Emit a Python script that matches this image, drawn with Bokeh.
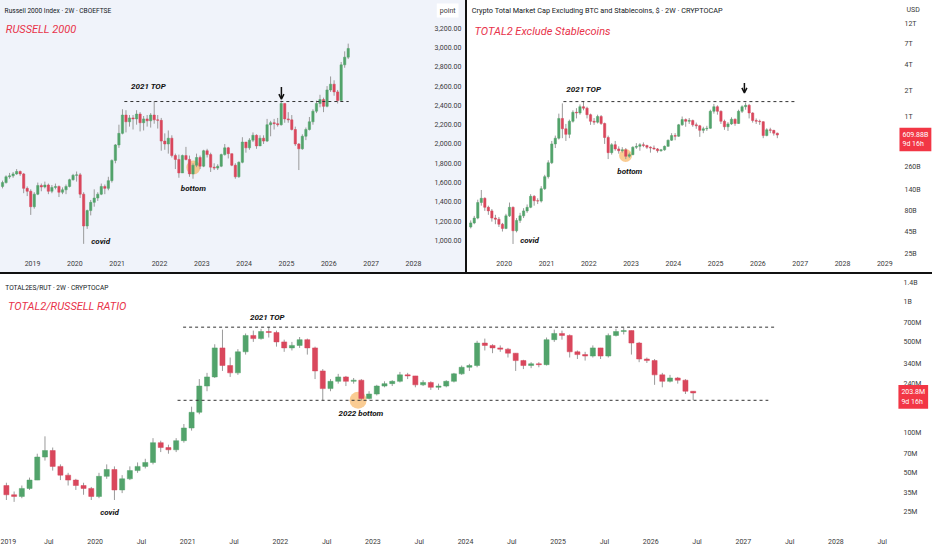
import pandas as pd
from bokeh.plotting import figure
from bokeh.models import ColumnDataSource, FixedTicker, Label, Arrow, OpenHead
from bokeh.layouts import column, row
from bokeh.embed import file_html
from bokeh.resources import INLINE

# ---------------- data (monthly candles, open = previous close) ----------------
rut_start = "2018-04"
rut_open0 = 1560
rut_close = [1600, 1660, 1670, 1690, 1715, 1690, 1540, 1510, 1350,
             1480, 1570, 1555, 1575, 1510, 1550, 1560, 1500, 1525, 1560, 1630, 1675,
             1680, 1480, 1150, 1310, 1395, 1440, 1480, 1560, 1540, 1620, 1830, 1990,
             2110, 2300, 2230, 2270, 2260, 2310, 2220, 2260, 2240, 2300, 2250, 2245,
             2030, 2000, 2060, 1880, 1840, 1700, 1880, 1840, 1690, 1780, 1860, 1770,
             1930, 1890, 1760, 1750, 1770, 1890, 1960, 1900, 1780, 1660, 1810, 2020,
             1960, 2040, 2090, 1980, 2060, 2030, 2200, 2220, 2210, 2200, 2420, 2260,
             2250, 2150, 2000, 1950, 2080, 2150, 2230, 2340, 2420, 2460, 2390, 2560,
             2620, 2540, 2450, 2820, 2900, 2990]
rut_high = [1620, 1675, 1700, 1710, 1740, 1725, 1700, 1560, 1530,
            1500, 1600, 1590, 1610, 1590, 1575, 1590, 1570, 1550, 1580, 1640, 1690,
            1715, 1700, 1500, 1320, 1420, 1530, 1500, 1590, 1580, 1660, 1840, 2000,
            2200, 2360, 2350, 2300, 2300, 2350, 2330, 2290, 2300, 2320, 2445, 2300,
            2270, 2110, 2140, 2090, 1900, 1890, 1890, 1970, 1880, 1800, 1900, 1880,
            1940, 1950, 1910, 1800, 1790, 1900, 2000, 1970, 1900, 1800, 1820, 2070,
            2020, 2060, 2120, 2100, 2090, 2090, 2260, 2240, 2260, 2270, 2450, 2420,
            2330, 2300, 2180, 2010, 2100, 2170, 2280, 2360, 2450, 2510, 2480, 2600,
            2700, 2660, 2560, 2850, 2960, 3040]
rut_low = [1540, 1590, 1640, 1650, 1680, 1670, 1490, 1460, 1265,
           1330, 1470, 1510, 1540, 1480, 1490, 1530, 1450, 1480, 1480, 1550, 1620,
           1610, 1440, 965, 1120, 1260, 1350, 1410, 1470, 1480, 1520, 1600, 1800,
           1960, 2100, 2120, 2180, 2150, 2200, 2130, 2140, 2180, 2170, 2210, 2160,
           1930, 1940, 1900, 1860, 1740, 1650, 1700, 1830, 1660, 1640, 1760, 1740,
           1760, 1860, 1710, 1730, 1730, 1760, 1880, 1850, 1770, 1640, 1650, 1800,
           1910, 1940, 2020, 1950, 1980, 2000, 2020, 2080, 2150, 2180, 2190, 2220,
           2220, 2140, 1980, 1730, 1940, 2040, 2140, 2200, 2320, 2380, 2330, 2380,
           2540, 2500, 2420, 2440, 2790, 2880]

t2_start = "2019-03"
t2_open0 = 52
t2_close = [58, 66, 100, 112, 88, 80, 66, 64, 56, 50,
            70, 88, 47, 62, 70, 80, 88, 118, 105, 104, 145, 200,
            290, 480, 560, 950, 720, 620, 880, 1120, 1100, 1300, 1250, 1050,
            880, 860, 1000, 830, 570, 380, 470, 420, 400, 410, 345, 360,
            440, 450, 470, 460, 440, 430, 420, 400, 410, 450, 530, 600,
            590, 800, 920, 880, 900, 800, 780, 690, 720, 730, 1150, 1300,
            1150, 880, 760, 820, 930, 830, 1150, 1300, 1350, 1100, 900, 880,
            870, 600, 700, 690, 640, 609.88]
t2_high = [62, 70, 108, 140, 115, 92, 84, 72, 68, 58,
           74, 100, 90, 66, 76, 86, 95, 125, 122, 112, 155, 210,
           310, 520, 600, 1080, 1420, 820, 920, 1180, 1250, 1380, 1500, 1300,
           1080, 960, 1050, 1040, 850, 600, 490, 520, 450, 440, 430, 380,
           450, 490, 490, 500, 470, 450, 460, 430, 420, 460, 540, 640,
           640, 820, 1000, 950, 960, 920, 850, 800, 760, 780, 1200, 1400,
           1350, 1180, 920, 860, 980, 950, 1200, 1350, 1450, 1400, 1120, 950,
           920, 880, 730, 740, 700, 650]
t2_low = [50, 56, 64, 92, 80, 72, 60, 56, 52, 46,
          49, 68, 33, 45, 58, 66, 76, 86, 92, 96, 100, 140,
          190, 280, 430, 540, 560, 520, 560, 850, 950, 1050, 1180, 950,
          800, 800, 830, 800, 480, 320, 360, 400, 370, 380, 320, 330,
          355, 420, 400, 440, 420, 380, 410, 380, 390, 400, 445, 520,
          530, 580, 780, 760, 820, 760, 720, 580, 640, 680, 720, 1080,
          1050, 820, 700, 680, 800, 780, 820, 1100, 1200, 950, 850, 820,
          800, 560, 590, 640, 600, 560]

ratio_start = "2019-01"
ratio_open0 = 40
ratio_close = [34, 33, 38, 44, 66, 74, 56, 48, 44, 40, 38, 33,
               47, 53, 37, 45, 52, 56, 60, 85, 78, 75, 88, 110,
               145, 230, 270, 450, 330, 290, 420, 560, 530, 600, 590, 500,
               450, 470, 520, 450, 300, 220, 250, 270, 250, 255, 185, 200,
               230, 240, 250, 280, 275, 235, 245, 225, 230, 250, 285, 320,
               330, 490, 470, 450, 440, 410, 360, 330, 340, 335, 520, 580,
               560, 420, 400, 390, 450, 390, 560, 600, 610, 490, 370, 360,
               280, 250, 265, 255, 210, 203.8]
ratio_high = [42, 36, 40, 46, 70, 95, 78, 58, 50, 45, 42, 39,
              50, 58, 56, 48, 56, 60, 64, 92, 88, 82, 92, 118,
              160, 260, 290, 480, 620, 380, 440, 580, 610, 630, 650, 610,
              520, 500, 545, 530, 460, 310, 260, 285, 275, 265, 260, 210,
              235, 250, 255, 295, 290, 275, 255, 250, 240, 255, 290, 330,
              340, 510, 530, 480, 470, 450, 410, 365, 350, 350, 540, 620,
              610, 570, 430, 420, 470, 450, 580, 630, 640, 610, 500, 380,
              370, 290, 280, 270, 260, 210]
ratio_low = [31, 30, 32, 37, 44, 62, 52, 44, 40, 37, 34, 31,
             32, 45, 31, 35, 44, 50, 54, 58, 72, 70, 72, 85,
             105, 140, 210, 265, 300, 270, 280, 400, 500, 520, 540, 460,
             420, 430, 450, 400, 260, 180, 210, 240, 230, 240, 178, 182,
             195, 225, 230, 245, 260, 225, 230, 215, 215, 225, 245, 280,
             300, 320, 430, 410, 420, 380, 300, 310, 315, 320, 330, 500,
             520, 380, 370, 360, 380, 370, 380, 550, 570, 400, 350, 345,
             235, 225, 245, 240, 200, 180]

# tick values / labels
rut_xticks = [2019, 2020, 2021, 2022, 2023, 2024, 2025, 2026, 2027, 2028]
rut_yticks = [1000, 1200, 1400, 1600, 1800, 2000, 2200, 2400, 2600, 2800, 3000, 3200]
rut_ylabels = ["1,000.00", "1,200.00", "1,400.00", "1,600.00", "1,800.00", "2,000.00",
               "2,200.00", "2,400.00", "2,600.00", "2,800.00", "3,000.00", "3,200.00"]
t2_xticks = [2020, 2021, 2022, 2023, 2024, 2025, 2026, 2027, 2028, 2029]
t2_yticks = [25, 45, 80, 140, 260, 1000, 2000, 4000, 7000, 12000]
t2_ylabels = ["25B", "45B", "80B", "140B", "260B", "1T", "2T", "4T", "7T", "12T"]
ratio_xticks = [2019, 2019.5, 2020, 2020.5, 2021, 2021.5, 2022, 2022.5, 2023, 2023.5,
                2024, 2024.5, 2025, 2025.5, 2026, 2026.5, 2027, 2027.5, 2028, 2028.5]
ratio_xlabels = ["2019", "Jul", "2020", "Jul", "2021", "Jul", "2022", "Jul", "2023", "Jul",
                 "2024", "Jul", "2025", "Jul", "2026", "Jul", "2027", "Jul", "2028", "Jul"]
ratio_yticks = [25, 35, 50, 70, 100, 240, 340, 500, 700, 1000, 1400]
ratio_ylabels = ["25M", "35M", "50M", "70M", "100M", "240M", "340M", "500M", "700M", "1B", "1.4B"]

# ---------------- styling ----------------
GREEN = "#52a36b"
RED = "#d9475c"
WICK = "#9a9a9a"
TAG_RED = "#f23645"
LABEL_RED = "#e8334a"
FONT = "Roboto"


def month_t(start, n):
    per = pd.period_range(start=start, periods=n, freq="M")
    return [y + (m - 0.5) / 12 for y, m in zip(per.year, per.month)]


def candles(p, start, open0, close, high, low):
    t = month_t(start, len(close))
    opens = [open0] + list(close[:-1])
    src = ColumnDataSource(dict(
        t=t, h=high, l=low,
        top=[max(o, c) for o, c in zip(opens, close)],
        bot=[min(o, c) for o, c in zip(opens, close)],
        color=[GREEN if c >= o else RED for o, c in zip(opens, close)],
    ))
    p.segment("t", "l", "t", "h", source=src, line_color=WICK, line_width=1)
    p.vbar(x="t", top="top", bottom="bot", width=0.055, fill_color="color",
           line_color="color", line_width=0.5, source=src)


def make_fig(w, h, xr, yr, ytype, bg, xticks, xlabels, yticks, ylabels, axis_x, bottom, ystand):
    p = figure(width=w, height=h, x_range=xr, y_range=yr, y_axis_type=ytype,
               output_backend="svg", toolbar_location=None, y_axis_location="right",
               background_fill_color=bg, border_fill_color=bg,
               min_border_left=0, min_border_top=0, min_border_bottom=bottom,
               min_border_right=0, styles={"background-color": bg})
    p.outline_line_color = None
    p.xgrid.visible = False
    p.ygrid.visible = False
    for ax in (p.xaxis[0], p.yaxis[0]):
        ax.axis_line_color = None
        ax.major_tick_line_color = None
        ax.minor_tick_line_color = None
        ax.major_tick_out = 0
        ax.major_tick_in = 0
        ax.minor_tick_out = 0
        ax.major_label_text_font = FONT
        ax.major_label_text_font_size = "7px"
        ax.major_label_text_color = "#3a3a3a"
    p.xaxis.major_label_standoff = 4
    p.yaxis.major_label_standoff = ystand
    p.yaxis.fixed_location = axis_x
    p.xaxis.ticker = FixedTicker(ticks=xticks)
    p.xaxis.major_label_overrides = {float(v) if v != int(v) else int(v): s
                                     for v, s in zip(xticks, xlabels)}
    p.yaxis.ticker = FixedTicker(ticks=yticks)
    p.yaxis.major_label_overrides = {v: s for v, s in zip(yticks, ylabels)}
    return p


def txt(p, x, y, s, size="8px", color="#131722", style="normal", align="left", **kw):
    p.add_layout(Label(x=x, y=y, text=s, text_font=FONT, text_font_size=size,
                       text_color=color, text_font_style=style, text_align=align,
                       text_baseline="middle", **kw))


def note(p, x, y, s):
    txt(p, x, y, s, size="8px", color="#111111", style="bold italic", align="center")


def glow(p, x, y, size):
    p.scatter([x], [y], size=size, fill_color="#f5a23a", fill_alpha=0.55, line_color=None)


W1, W2, H1, W3, H3 = 465, 465, 272, 932, 276

# ---------------- Russell 2000 ----------------
p1 = make_fig(W1, H1, (2018.244, 2029.229), (834, 3487), "linear", "#f0f3fa",
              rut_xticks, [str(v) for v in rut_xticks], rut_yticks, rut_ylabels,
              2028.426, 16, 3)
glow(p1, 2022.80, 1756, 14)
candles(p1, rut_start, rut_open0, rut_close, rut_high, rut_low)
p1.line([2021.17, 2026.47], [2440, 2440], line_dash="3 3", line_color="#333333", line_width=1)
p1.add_layout(Arrow(end=OpenHead(size=5, line_width=1.5, line_color="#111111"),
                    x_start=2024.88, y_start=2590, x_end=2024.88, y_end=2465,
                    line_width=1.5, line_color="#111111"))
txt(p1, 2018.34, 3383, "Russell 2000 Index · 2W · CBOEFTSE", size="6.6px")
txt(p1, 2018.37, 3186, "RUSSELL 2000", size="11px", color=LABEL_RED, style="italic")
note(p1, 2021.74, 2596, "2021 TOP")
note(p1, 2022.80, 1539, "bottom")
note(p1, 2020.61, 990, "covid")
txt(p1, 2028.55, 3383, "point", size="7px", color="#3a3a3a",
    background_fill_color="white", padding=3)

# ---------------- TOTAL2 ----------------
p2 = make_fig(W2, H1, (2019.132, 2030.128), (23.6, 22300), "log", "#ffffff",
              t2_xticks, [str(v) for v in t2_xticks], t2_yticks, t2_ylabels,
              2029.30, 16, 7)
glow(p2, 2022.87, 352, 13)
candles(p2, t2_start, t2_open0, t2_close, t2_high, t2_low)
p2.line([2021.40, 2026.91], [1490, 1490], line_dash="3 3", line_color="#333333", line_width=1)
p2.add_layout(Arrow(end=OpenHead(size=5, line_width=1.5, line_color="#111111"),
                    x_start=2025.68, y_start=2450, x_end=2025.68, y_end=1880,
                    line_width=1.5, line_color="#111111"))
txt(p2, 2019.23, 17100, "Crypto Total Market Cap Excluding BTC and Stablecoins, $ · 2W · CRYPTOCAP",
    size="7.3px")
txt(p2, 2019.30, 9700, "TOTAL2 Exclude Stablecoins", size="11px", color=LABEL_RED, style="italic")
note(p2, 2021.88, 2060, "2021 TOP")
note(p2, 2022.97, 229, "bottom")
note(p2, 2020.60, 36, "covid")
txt(p2, 2029.513, 17100, "USD", size="7px", color="#3a3a3a")
txt(p2, 2029.347, 540, "609.88B\n9d 16h", size="7px", color="white",
    background_fill_color=TAG_RED, padding=3)

# ---------------- Ratio ----------------
p3 = make_fig(W3, H3, (2018.978, 2029.043), (17.2, 1636), "log", "#ffffff",
              ratio_xticks, ratio_xlabels, ratio_yticks, ratio_ylabels,
              2028.643, 17, 8)
glow(p3, 2022.84, 179, 17)
candles(p3, ratio_start, ratio_open0, ratio_close, ratio_high, ratio_low)
p3.line([2020.95, 2027.34], [648, 648], line_dash="3 3", line_color="#333333", line_width=1)
p3.line([2020.89, 2027.27], [179, 179], line_dash="3 3", line_color="#333333", line_width=1)
txt(p3, 2019.03, 1301, "TOTAL2ES/RUT · 2W · CRYPTOCAP", size="6.6px")
txt(p3, 2019.06, 932, "TOTAL2/RUSSELL RATIO", size="11px", color=LABEL_RED, style="italic")
note(p3, 2021.86, 768, "2021 TOP")
note(p3, 2022.87, 142, "2022 bottom")
note(p3, 2020.155, 25, "covid")
txt(p3, 2028.675, 190, "203.8M\n9d 16h", size="7px", color="white",
    background_fill_color=TAG_RED, padding=3)

layout = column(row(p1, p2, spacing=2), p3, spacing=2,
                styles={"background-color": "#111111"})

open("out.html", "w").write(file_html(layout, INLINE))
